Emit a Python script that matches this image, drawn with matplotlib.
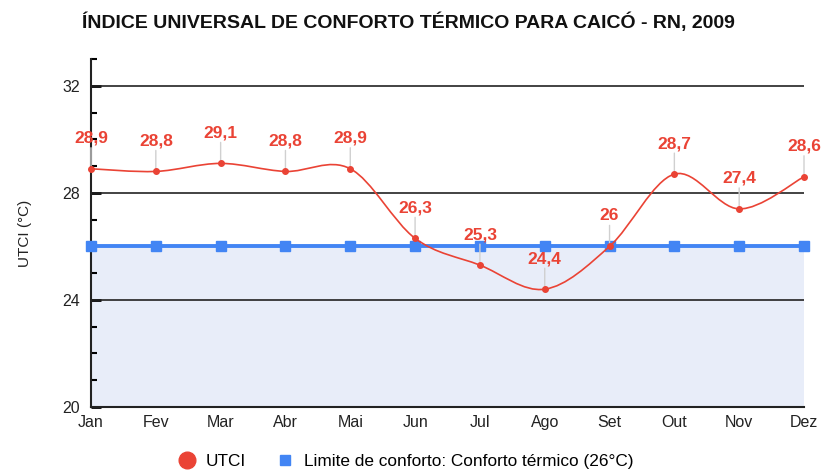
import matplotlib
matplotlib.use('Agg')
import matplotlib.pyplot as plt
from matplotlib.path import Path
from matplotlib.patches import PathPatch
from matplotlib.lines import Line2D

plt.rcParams['font.family'] = ['Liberation Sans', 'DejaVu Sans']

months = ['Jan', 'Fev', 'Mar', 'Abr', 'Mai', 'Jun', 'Jul', 'Ago', 'Set', 'Out', 'Nov', 'Dez']
utci = [28.9, 28.8, 29.1, 28.8, 28.9, 26.3, 25.3, 24.4, 26, 28.7, 27.4, 28.6]
limite = [26] * 12
utci_labels = ['28,9', '28,8', '29,1', '28,8', '28,9', '26,3', '25,3', '24,4', '26', '28,7', '27,4', '28,6']

red = '#ea4335'
blue = '#4285f4'

fig = plt.figure(figsize=(8.21, 4.72), dpi=100)
ax = fig.add_axes([91 / 821, 1 - 407 / 472, (804 - 91) / 821, (407 - 59) / 472])

x = list(range(len(months)))

# comfort zone fill
ax.fill_between(x, 20, limite, color='#e8edf9', zorder=1, linewidth=0)

# gridlines
for g in [24, 28, 32]:
    ax.axhline(g, color='#222222', lw=1.2, zorder=2)

# limit line
ax.plot(x, limite, color=blue, lw=2.8, marker='s', markersize=7, zorder=3, clip_on=False)

# smooth curve for UTCI (bezier through the points)
verts = [(x[0], utci[0])]
codes = [Path.MOVETO]
t = 1 / 6
for i in range(len(x) - 1):
    p0 = (x[i - 1], utci[i - 1]) if i > 0 else (x[i], utci[i])
    p1 = (x[i], utci[i])
    p2 = (x[i + 1], utci[i + 1])
    p3 = (x[i + 2], utci[i + 2]) if i + 2 < len(x) else p2
    c1 = (p1[0] + (p2[0] - p0[0]) * t, p1[1] + (p2[1] - p0[1]) * t)
    c2 = (p2[0] - (p3[0] - p1[0]) * t, p2[1] - (p3[1] - p1[1]) * t)
    verts += [c1, c2, p2]
    codes += [Path.CURVE4] * 3
ax.add_patch(PathPatch(Path(verts, codes), facecolor='none', edgecolor=red, lw=1.2, zorder=4))
ax.plot(x, utci, linestyle='none', marker='o', markersize=4, color=red, zorder=5, clip_on=False)

for xi, yi, lab in zip(x, utci, utci_labels):
    ax.annotate('', xy=(xi, yi), xytext=(0, 21), textcoords='offset pixels',
                arrowprops=dict(arrowstyle='-', color='#d0d0d0', lw=1, shrinkA=0, shrinkB=2),
                annotation_clip=False, zorder=3)
    ax.annotate(lab, xy=(xi, yi), xytext=(0, 23), textcoords='offset pixels',
                ha='center', va='bottom', color=red, fontsize=12.5, fontweight='bold',
                annotation_clip=False, zorder=6)

ax.set_xlim(0, 11)
ax.set_ylim(20, 33)
ax.set_xticks(x)
ax.set_xticklabels(months, fontsize=11.5, color='#222222')
ax.set_yticks([20, 24, 28, 32])
ax.set_yticklabels(['20', '24', '28', '32'], fontsize=11.5, color='#222222')
ax.set_yticks(range(20, 34), minor=True)
ax.tick_params(axis='x', length=0, pad=6)
ax.tick_params(axis='y', which='major', direction='in', length=7, width=2, pad=8)
ax.tick_params(axis='y', which='minor', direction='in', length=4, width=1.5)

for s in ['top', 'right']:
    ax.spines[s].set_visible(False)
for s in ['left', 'bottom']:
    ax.spines[s].set_linewidth(1.5)
    ax.spines[s].set_color('#222222')
ax.set_ylabel('UTCI (°C)', fontsize=11, color='#222222', labelpad=22)

fig.text(408 / 821, 1 - 22 / 472, 'ÍNDICE UNIVERSAL DE CONFORTO TÉRMICO PARA CAICÓ - RN, 2009',
         ha='center', va='center', fontsize=14, fontweight='bold', color='#111111')

handles = [
    Line2D([], [], linestyle='none', marker='o', markersize=12, color=red),
    Line2D([], [], linestyle='none', marker='s', markersize=7, color=blue),
]
fig.legend(handles, ['UTCI', 'Limite de conforto: Conforto térmico (26°C)'],
           loc='center', bbox_to_anchor=(406 / 821, 1 - 461 / 472), ncol=2, frameon=False,
           fontsize=12.4, handletextpad=0.6, columnspacing=1.8, handlelength=1.0)

fig.savefig('out.png', dpi=100)
